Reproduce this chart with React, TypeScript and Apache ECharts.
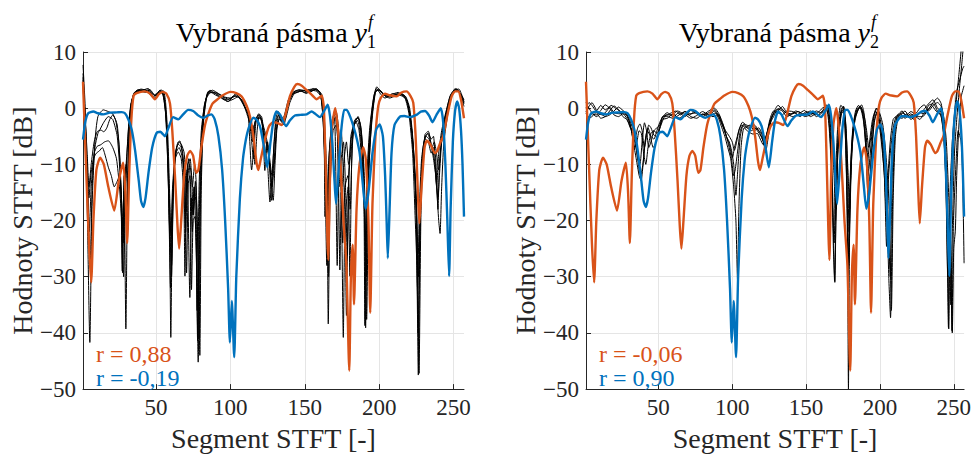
import React, { useEffect, useRef } from "react";
import * as echarts from "echarts";

type P = [number, number][];

const xTicks = [50, 100, 150, 200, 250];

const orangeRef: P = [[1,4.7],[3,-10],[5,-24],[6.5,-31],[8,-20],[10,-11],[12.5,-8.8],[15,-10],[18,-14],[22,-18.2],[25,-13],[28,-9.7],[29.5,-15],[30.7,-24],[32,-12],[33.5,-2],[35,2.2],[37,2.7],[42.6,3.0],[46,2.6],[49.3,1.6],[52,2.5],[54.5,2.9],[57,2.6],[59.4,0.9],[61,-4],[63,-13],[64.5,-21],[65.6,-25],[67,-20],[69,-12],[71,-8.5],[73,-7.6],[75,-8.5],[77,-11.5],[78.5,-11],[80.5,-7],[83,-3],[85.5,-0.8],[88,0.8],[91,1.5],[95,2.3],[100,2.9],[104,2.7],[107.6,2.1],[111,0.4],[113.2,-1.5],[115.5,-5],[117.5,-9.5],[118.8,-11],[120.5,-9],[123.2,-5.7],[126,-3.2],[128.8,-2.5],[131.5,-2.6],[134.5,-3.0],[137,-1.2],[140,2.1],[143,3.8],[145,4.3],[148,4.0],[151.3,3.2],[154.6,2.4],[158,1.6],[161.3,2.2],[162.8,0.2],[164,-10],[165.8,-27],[167,-12],[168.5,-3],[170.5,0],[172,-3],[174,-10],[176,-20],[178,-28],[179.9,-46.7],[181,-30],[182.2,-24.3],[183.1,-34.9],[184.8,-18],[186.8,-10],[189.3,-7],[191,-9],[192.8,-20],[194,-36.4],[195.5,-17],[197.5,-5],[199.4,0.4],[201,1.8],[203.9,2.6],[207,2.3],[211.7,2.1],[215,2.8],[218.4,3.0],[221,2.2],[222.9,1.0],[224.5,-5],[226,-15],[227,-20.5],[228.5,-14],[230.5,-7],[232,-5.8],[234.5,-6.5],[237.5,-8.0],[239,-7.6],[241,-6.2],[243,-5],[246,-1],[248.7,2.1],[251,3.0],[253.1,3.0],[255,1.5],[257,-1.8]];

const blueRef: P = [[1,-5.6],[2.5,-2.5],[4.5,-0.9],[7.9,-0.6],[11,-0.9],[14.6,-1.1],[19,-0.8],[23.6,-0.75],[27,-0.7],[29.2,-0.9],[31.5,-2],[33.7,-3.8],[36,-7.5],[38.5,-13],[40,-16.5],[41.5,-17.6],[43,-16],[45,-11.5],[47.5,-7],[50.5,-4.4],[53,-4.2],[56,-5],[58,-3.8],[61.6,-1.6],[65,-2],[68,-1.2],[71.7,-0.3],[75,-0.5],[78,-1.2],[81.8,-1.7],[85,-1.3],[87.4,-1.1],[89.5,-2],[92,-5],[94.5,-11],[96.5,-20],[98.5,-32],[99.7,-41.7],[101,-34.3],[102.6,-44.3],[104,-30],[106.4,-16.1],[108.5,-9],[110.5,-5.5],[112,-3.8],[115.4,-1.7],[117.5,-2],[119.9,-3.2],[122,-6],[124.8,-10.5],[127,-6],[129,-2.2],[131.1,-0.6],[133.5,-1.2],[137.4,-3.2],[140,-2.2],[143.4,-1.3],[147,-1.2],[151.3,-1.1],[154.6,-0.6],[157,-1],[160.2,-1.6],[163,-0.5],[165.4,0.6],[167,-1.5],[168.5,-6],[170,-13],[171,-17],[172.5,-12],[174.5,-4],[176.5,-0.3],[178.2,-0.3],[180.5,-1.5],[183,-3.5],[185,-5.5],[187,-8.2],[189,-13.5],[190.8,-17.9],[192.8,-15],[195.5,-8],[198,-3.8],[200.3,-2.9],[202.5,-5],[204,-12],[205,-20],[205.8,-26.7],[207,-18],[208.3,-8],[210.3,-3],[214,-1.5],[217,-1.4],[220.7,-1.6],[225,-1.2],[228,-0.6],[230.8,-0.5],[233.5,-1.3],[235.8,-2.5],[238.5,-1.2],[241.4,0],[243,-2.5],[244.5,-10],[245.8,-20],[247,-29.9],[248,-18],[249.5,-6],[251,-0.5],[252.4,1.2],[253.7,0],[255,-4],[256,-10],[257,-19.3]];

const leftBlack1: P = [[1,7.7],[2.5,0],[4,-20],[5.6,-41.7],[7,-18],[9,-6],[11,-1.5],[14.6,-0.3],[18,-0.6],[21,-1],[24,-3],[26,-10],[27.6,-29.3],[28.6,-12],[29.8,-39.3],[31,-12],[32.5,-2],[34,1.5],[37,3],[41,3.2],[44.8,3.5],[47,2.8],[49.3,2.2],[52.7,3.2],[55,2.5],[56.5,0],[58,-8],[59.3,-25],[60,-40.8],[61,-20],[62.5,-10],[64,-7],[66,-5.8],[68,-8],[69.5,-14],[70.6,-29.3],[71.7,-13.5],[72.8,-12],[73.9,-32.3],[75,-20],[76.2,-19.3],[77.3,-28],[78.4,-45.2],[79.5,-20],[80.5,-8],[82,-1],[85.2,3],[88,2.8],[91.9,2.4],[95,1.6],[98.6,1.2],[101,1.8],[104.2,2.4],[107,1.6],[110,0],[112,-1.1],[114.3,-11],[115.5,-8],[117,-2],[119.9,-1.7],[122.1,-4],[123.5,-8],[125,-10],[126.6,-16.7],[128,-12],[129.5,-6],[131,-2],[133,-1],[135.5,-2.9],[138,0],[141,2.2],[144.5,3],[148,3],[151,2.6],[155.7,3.5],[158,3.2],[161.3,2.2],[163,-5],[163.6,-19.3],[164.7,-10],[165.8,-38.4],[167,-15],[169,-4],[171.4,-2.9],[172.5,-10],[173.6,-28.8],[174.5,-15],[175.9,-40.8],[177,-20],[179.2,-14],[180.3,-29.9],[181.5,-10],[183,-3.2],[185.9,-1.5],[188,-5],[190,-15],[190.9,-39.1],[192,-18],[194,-6],[196,0],[198.3,3.5],[201,2.5],[203.9,1.8],[208,2.4],[212.8,2.8],[217.3,1.8],[220,-1],[222.5,-8],[224,-18.2],[225.3,-28],[226.3,-47.5],[227.3,-25],[228.5,-12],[230.8,-4.7],[233,-4.1],[235,-6.5],[237,-9],[238.6,-14],[240,-20],[240.9,-22.3],[242,-14],[243.5,-6],[246.4,-0.6],[249,2.5],[251,3.5],[253,3.2],[255.4,1.8],[257,0.3]];

const leftBlack2: P = [[1,6.2],[3,-5],[4.5,-18],[5.8,-28],[7.2,-14],[9,-7],[11,-4.5],[12.4,-3.8],[15,-2.5],[18,-1.5],[21,-2],[24,-5],[26.5,-14],[28,-22],[29.3,-12],[30.5,-20],[31.5,-8],[33,0],[35,2.5],[38,3.3],[42,3.0],[45,3.3],[48,2.0],[51,2.6],[53.5,3.3],[55.5,2],[57,-3],[58.5,-15],[59.8,-32],[61,-15],[63,-8],[65,-6.4],[67,-7],[68.5,-10],[69.5,-29.9],[70.5,-12],[72,-9],[73.5,-15],[74.5,-22],[75.5,-14],[77,-24],[78,-41.4],[79.2,-18],[80.5,-6],[82.5,0.5],[86.3,3.2],[90,2.6],[94,1.8],[98,1.5],[102,2.0],[105,2.2],[108,1.2],[110.5,-0.5],[113,-2.5],[115.4,-3.5],[116.5,-10],[118,-4],[119.5,-1.2],[121.5,-2.5],[123.2,-11.1],[124.5,-6],[126,-9],[127.7,-16.4],[129,-8],[130.5,-2],[132.2,-0.6],[134,-1.8],[136,-1.5],[139,1.5],[142,2.8],[146,3.2],[150,2.8],[154,3.0],[157.6,3.5],[160.5,2.6],[162.3,-2],[163.6,-12],[164.8,-28],[166,-10],[168,-3],[170,-1.8],[171.8,-28],[173,-8],[174.5,-4],[176,-12],[177,-18],[178,-36.9],[179.5,-12],[181,-5],[182.6,-3.2],[184.5,-2.5],[186.5,-4],[188.5,-10],[189.8,-18],[190.4,-38.7],[191.5,-14],[193.5,-4],[196,1.5],[198.4,3.8],[201,3],[205,2],[209,2.6],[213,2.4],[217,2.2],[219.5,0.5],[222,-4],[224,-12],[225.5,-22],[226.8,-47.2],[228,-20],[229.5,-8],[231,-5.5],[233,-6],[235,-8],[236.5,-7],[238,-9],[239.5,-18],[240.5,-10],[242.5,-4],[245,-1],[248,2],[251.5,3.3],[254,2.8],[257,1.5]];

const leftBlack3: P = [[1,5],[2.5,-3],[4,-12],[5.2,-22],[6.5,-14],[8.5,-8],[10.5,-6.8],[13,-6.5],[15.5,-6],[18,-5.8],[21,-7],[23.5,-9],[25.5,-14],[27,-20],[28.3,-30],[29.5,-15],[31,-6],[33,0.5],[35.5,2.8],[39,3.2],[43,3.3],[46.5,2.3],[49.3,1.8],[52,2.8],[54.5,2.6],[56.5,-1],[58,-10],[59,-20],[60.5,-28],[62,-12],[63.5,-8],[65.5,-7],[67.5,-8.5],[69,-12],[70,-18],[71,-11],[72.8,-33.7],[74,-16],[75,-19],[76.5,-13],[78,-22],[79,-41],[80,-16],[81.5,-4],[84,1.8],[87,2.8],[91,2.2],[95,2.0],[99,1.6],[103,2.2],[106,1.8],[109,0.5],[112,-1],[114,-5],[115.5,-9],[117,-3],[119,-1],[121,-1.5],[122.5,-4],[124,-6],[126,-9],[128.8,-16.4],[130,-10],[131.5,-3],[133.5,-1.5],[136,-3],[138.5,0.5],[142,2.5],[145,2.8],[149,3.2],[153,2.8],[157,3.3],[160,2.8],[162,0],[163.5,-8],[165,-18],[166.5,-8],[168.5,-2],[171,-1],[172.5,-6],[174,-12],[175.5,-24],[177,-14],[179,-12],[180.5,-18],[182,-6],[184,-2],[186,-1.8],[188,-4],[190,-12],[191.6,-37.6],[193,-12],[195,-2],[197.5,3],[200,3.2],[204,2.2],[208,2.2],[212.8,2.6],[216,2.4],[219,1],[221.5,-3],[223.5,-10],[225,-20],[226.2,-40],[227.5,-18],[229,-9],[231,-5],[233,-4.5],[235,-5.5],[236.5,-5],[238.6,-14],[240,-8],[242,-4],[245,-0.5],[248,2.4],[251,3.2],[253.5,3],[257,0.8]];

const leftBlack4: P = [[1,4],[2.5,-4],[3.8,-10],[5,-16],[6.2,-12],[8,-9],[10,-8],[12,-7.6],[14,-7],[16,-8.5],[18,-10.5],[20,-12],[22,-14],[24,-13],[25.5,-12],[27,-17],[28,-24],[29,-14],[30.5,-8],[32,-2],[34,1.5],[37,3],[40,3.4],[44,3.1],[47,2.6],[50,2.2],[53,3.0],[55,2.2],[57,-2],[58.5,-12],[60,-22],[61.5,-14],[63,-9],[65,-7.8],[67,-9],[68.5,-14],[70,-22],[71,-14],[72.5,-10],[74,-12],[75,-19],[76,-14],[77,-18],[77.7,-36],[79,-14],[80.5,-4],[83,1],[86,2.8],[90,2.8],[94,2.2],[98,1.2],[102,1.6],[105,2],[108,1.4],[111,-0.5],[113,-2],[114.3,-4],[116,-3],[118,-1.8],[120,-1.8],[122,-3],[124,-5],[126,-8],[128,-12],[129.5,-9],[131,-4],[133,-2],[135,-2.2],[137,-1],[140,1.8],[143,3],[147,3.3],[151,3],[154,3.2],[158,3],[161,2],[162.5,-3],[164,-12],[165.5,-20],[167,-7],[169,-1.5],[171,-0.5],[172.5,-3],[174,-8],[175,-14],[176.5,-9],[178,-6],[179.5,-10],[181,-8],[183,-2.5],[185.5,-1.6],[187.5,-3],[189,-8],[190.5,-20],[191.5,-30],[192.5,-12],[194.5,-3],[197,2.5],[199.5,3.4],[203,2.6],[207,2.0],[211,2.4],[215,2.2],[218.5,1.5],[221,-2],[223,-7],[225,-16],[226.5,-30],[228,-15],[229.5,-7],[231.5,-5],[233.5,-5.5],[235.5,-7],[237,-6],[238.5,-8],[240,-11],[241.5,-7],[243.5,-3],[246,0],[249,2.8],[252,3.4],[255,2.4],[257,1.2]];

const leftBlack5: P = [[1,5.5],[2.5,-2],[3.8,-8],[5,-14],[6.5,-10],[8.5,-6],[10.5,-4.2],[13,-3.9],[15,-4.2],[17,-3.5],[19,-2],[21,-1.2],[23,-2.2],[25,-6],[26.5,-14],[27.4,-29],[28.5,-13],[30,-10],[31,-15],[32,-5],[33.5,0.8],[36,2.8],[40,3],[43,2.8],[46,3.3],[49,2.4],[52,2.8],[55,3.1],[56.5,1],[58,-5],[59.5,-18],[60.5,-30],[61.5,-16],[63,-8.5],[65,-6],[67,-6.4],[69,-8],[70.5,-15],[71.5,-10],[73,-9],[74.5,-14],[76,-10],[77,-13],[78.5,-30],[79.5,-44],[80.5,-14],[82,-2],[84.5,2.5],[88,3.2],[92,2.6],[96,2.0],[100,1.8],[104,2.6],[107,2.2],[110,0.8],[112.5,-0.8],[114,-3],[115,-6],[116.5,-2.5],[118.7,-1.2],[121,-2],[122.5,-6],[123.5,-9],[125,-6],[126.5,-10],[128,-14],[129.5,-10],[131,-3.5],[132.5,-1.2],[134.5,-2.5],[137,-2],[140,1],[143,2.6],[147,3],[151,3.2],[155,3.4],[159,3.2],[161.5,2.4],[163,-1],[164.5,-10],[166,-30],[167,-12],[168.5,-3.5],[170.5,-1.5],[172,-5],[173,-14],[174.5,-9],[176,-6],[177.5,-15],[178.5,-26],[179.5,-14],[181,-6],[183,-3],[185.5,-2.2],[187.5,-5],[189.5,-14],[191,-26],[192.5,-10],[194.5,-2],[197,2.8],[199.5,3.2],[203,2.4],[207,1.8],[211,2.2],[215,2.6],[218,2],[220.5,0],[222.5,-5],[224.5,-14],[225.8,-32],[227,-18],[228.5,-9],[230.5,-5.5],[232.5,-4.5],[234.5,-6],[236.5,-9],[238,-12],[239.5,-16],[240.5,-12],[242,-6],[244.5,-1.5],[247.5,2],[250.5,3.2],[253.5,3.4],[256,2],[257,1]];

const rightBlack1: P = [[1,0],[3,1],[5,0.5],[8,-0.5],[11,0.5],[14,-0.3],[17,0.2],[20,-0.8],[24,-1],[27,-0.8],[29,-1.5],[31,-3],[33,-6],[35,-9],[37,-12],[38.3,-12.9],[40,-9],[41.5,-5],[43,-3.5],[45,-5],[47,-5.5],[49,-4],[51,-2.5],[53,-1.5],[56,-1.2],[59,-0.8],[62,-0.5],[65,-1.2],[68,-0.6],[72,-1],[76,-0.8],[80,-1.2],[84,-0.5],[88,0],[91,-1],[94,-3],[96,-5],[98,-6.4],[100.2,-8.8],[101.5,-7],[103,-5.5],[105,-3.5],[107,-2.5],[109,-2.9],[112,-3.2],[115,-3],[118,-4],[120,-4.5],[122,-5.6],[124,-4],[126,-2],[128,-1],[131,-0.5],[134,0.3],[137,-0.8],[140,-1],[143,-0.5],[147,-0.9],[150,-1.2],[154,-0.8],[158,-1.2],[161,-0.5],[164,0.6],[166,-2],[167.5,-12],[168.5,-25],[169.5,-31],[170.5,-14],[172,-3],[174,0],[175.5,0.3],[177,-5],[178,-20],[178.7,-50],[179.5,-22],[181,-8],[183,-2],[185,-0.5],[187.6,0.6],[189,-0.5],[190.5,-4],[192,-10],[193,-13],[194.5,-8],[196,-3],[197.5,-1],[199,-2],[201,-6],[203,-12],[204.5,-24.6],[205.5,-14],[207,-8],[209,-3.5],[211,-1.5],[214,-1],[217,-1.8],[220,-1.2],[223,-2],[226,-1],[229,-0.5],[232,0.5],[235.9,1.5],[239,0],[241,-0.5],[243,-3],[244.5,-10],[246,-25],[246.6,-39.3],[247.5,-22],[249,-12],[250.5,-3],[252,2],[253.5,6],[254.9,10],[256,14]];

const rightBlack2: P = [[1,-1],[3,0.3],[5,1],[7,0.2],[9,-0.8],[12,-1.2],[15,-0.5],[18,0.5],[21,0],[24,-0.5],[27,-1.2],[29,-2],[31,-3.5],[33,-4],[34.5,-6],[36,-9],[37.5,-10],[39,-6],[40.6,-2.6],[42,-4],[43.5,-7],[45,-6],[47,-4],[49,-3.5],[51,-3],[53,-1.5],[56,-0.8],[60,-1.5],[64,-0.8],[68,-1.5],[72,-0.4],[76,-1],[80,-1.5],[84,-0.8],[88,-0.3],[91,-1.5],[94,-3.5],[96,-5],[98,-6],[99.5,-7.5],[101,-10],[102.5,-15.5],[104,-10],[105.5,-5],[107.5,-3],[110,-3.5],[113,-4],[116,-3.5],[119,-4.5],[121,-6],[122.7,-7.6],[124.5,-5],[126.5,-2],[129,-0.5],[132,0],[135,-0.5],[138,-1.2],[142,-0.8],[146,-1.5],[150,-0.6],[154,-1],[158,-0.8],[161,0],[163.5,0.3],[165.5,-3],[167,-10],[168,-18],[169,-24],[170,-12],[171.5,-3],[173.5,0.5],[175.3,0],[176.5,-4],[177.5,-14],[178.5,-30],[179.5,-15],[181,-6],[183,-1.5],[185.5,0],[187,0.3],[189,-2],[190.5,-6],[191.5,-10],[193,-6],[195,-2],[197,-0.5],[199,-1.5],[201,-5],[203,-12],[204.5,-20],[205.5,-12],[207,-6],[209,-2],[212,-1.2],[215,-0.5],[218,-1.5],[221,-1],[224,-1.8],[227,-0.8],[230,-1],[233,0.5],[236,0.8],[239,-0.5],[241.5,-1.5],[243.5,-6],[245,-16],[246.4,-39],[247.5,-15],[249,-6],[250.5,-1],[252,3],[254,5],[256,7],[257,7.5]];

const rightBlack3: P = [[1,-2],[3,-1.5],[5,-1],[8,-1.2],[11,-0.4],[14,0.6],[17,0],[20,-1.2],[23,-1.5],[26,-1],[28.5,-1.2],[30.5,-2.5],[32.5,-5],[34,-7],[35.5,-6],[37,-4],[38.5,-4.5],[40,-8],[41.5,-10],[43,-7],[45,-4.5],[47,-4],[49,-4.5],[51,-3.2],[53,-2],[56,-1.8],[60,-1],[64,-1.8],[68,-1.2],[72,-1.8],[76,-1.3],[80,-0.6],[84,-1.2],[88,-0.5],[91,-2],[93,-3.5],[95,-5],[97,-7],[99,-9],[101,-14],[102.5,-20],[103.6,-30.5],[104.5,-18],[106,-7],[108,-3.5],[111,-4.2],[114,-4.6],[117,-4.5],[119,-5.5],[121,-6.5],[123,-5],[125,-3],[128,-1.5],[131,-0.2],[134,-0.5],[137,-1.5],[141,-1],[145,-0.6],[149,-1.5],[153,-1.2],[157,-0.5],[160,-0.8],[163,0],[165,-1],[166.5,-6],[168,-15],[169.3,-30.8],[170.5,-16],[172,-5],[174,-1],[175.5,-0.5],[177,-3],[178,-10],[179.2,-22],[180.3,-12],[182,-4],[184,-1.2],[186.5,0.4],[188.5,-1],[190,-5],[191.5,-14],[192.5,-18],[194,-9],[196,-2.5],[198,-0.8],[200,-2.5],[202.5,-8],[204.5,-16],[206,-30],[207.2,-37.3],[208.5,-18],[210,-5],[212,-1.5],[215,-1.8],[218,-1],[221,-2],[224,-1.5],[227,-2],[230,-0.8],[233,-0.2],[236,1],[239,1.8],[241.5,0.8],[243.5,-3],[245,-10],[246.5,-22],[248,-30],[249,-40],[250,-25],[251.1,-21.7],[252,-12],[253.5,-3],[255,2],[257,4]];

const rightBlack4: P = [[1,1],[3,0],[5,-0.8],[8,-1.5],[11,-1],[14,-1.5],[17,-1.2],[20,-0.5],[23,0.2],[26,-0.4],[28.5,-1],[30.5,-2],[32.5,-3.5],[34.5,-5],[36,-3.5],[37.5,-2.8],[39,-4],[40.5,-7],[42,-5],[43.5,-3],[45,-3.5],[47,-4.8],[49,-5],[51,-3.5],[53,-1.5],[56,-1.5],[60,-1.8],[64,-1.2],[68,-0.6],[72,-1.5],[76,-1.8],[80,-1],[84,-1.5],[88,-0.9],[91,-1.2],[93,-2.5],[95.5,-4],[98,-5],[100,-6],[101.5,-7.5],[103,-6],[104.5,-4],[106.5,-3],[109,-3.5],[112,-3],[115,-4],[118,-3.5],[120,-4.5],[122,-6.8],[123.5,-5.5],[125.5,-2.5],[128,-0.8],[131,0.5],[134,-0.2],[137,-1],[141,-1.5],[145,-1],[149,-0.4],[153,-1.5],[157,-1],[160,-1.5],[163,-0.5],[165,0.2],[166.5,-3],[168,-8],[169,-12],[170,-20],[171,-10],[172.5,-3],[174.5,-0.3],[176,-1.5],[177,-8],[178,-18],[179,-28],[180,-14],[181.5,-4],[183.5,-0.5],[185.5,0.5],[187.5,-0.5],[189,-2.5],[190.5,-7],[192,-12],[193.5,-8],[195.5,-2],[197.5,0],[199.5,-1],[201.5,-4],[203.5,-10],[205.5,-20],[207,-30],[208,-15],[209.5,-5],[211.5,-1.5],[214,-1.2],[217,-0.5],[220,-1.5],[223,-1],[226,-1.5],[229,-1.5],[232,-0.5],[235,0.5],[238,-0.5],[241,-1],[243,-4],[244.5,-12],[246,-30],[247,-20],[248,-35],[249,-22],[250.5,-8],[252,-2],[254,4],[255.5,8],[256.5,11],[257,12]];

const rightBlack5: P = [[1,-0.5],[3,-1.8],[5,-1.5],[8,-0.8],[11,-1.8],[14,-1.5],[17,-0.5],[20,0.4],[23,-0.3],[26,-1.5],[28.5,-2],[30.5,-3],[32.5,-4.5],[34,-6],[35.5,-8],[37,-11],[38,-12],[39.5,-10],[41,-6],[42.5,-4],[44.5,-5],[46.5,-7],[48.5,-6],[50.5,-4],[52.5,-2.5],[55,-1.2],[59,-1.2],[63,-0.5],[67,-1],[71,-1.2],[75,-0.5],[79,-1.2],[83,-1],[87,-1.5],[90,-1.2],[92.5,-2.5],[95,-4],[97.5,-6.5],[99.5,-9],[101,-12],[102,-11],[103.5,-8],[105.5,-4],[108,-2.8],[111,-3.5],[114,-3.2],[117,-4],[119.5,-5],[121.5,-6],[123.5,-4.5],[125.5,-2],[128,-0.5],[131,-0.8],[134,-1.2],[137,-0.5],[141,-0.6],[145,-1.2],[149,-1],[153,-0.5],[157,-1.5],[160,-1],[163,-0.2],[165,0.5],[166.5,-1],[168,-5],[169.5,-12],[170.5,-18],[171.5,-8],[173.5,-1],[175.3,0.3],[176.5,-2],[177.5,-6],[178.5,-12],[179.5,-18],[180.5,-9],[182.5,-2.5],[185,0],[187.5,0],[189.5,-1.5],[191,-4],[192.5,-7],[194,-5],[196,-1.5],[198,0],[200,-1],[202,-3],[204,-8],[206,-16],[207.8,-36],[209,-16],[210.5,-5],[212.5,-1.5],[215,-0.8],[218,-1.2],[221,-0.6],[224,-1],[227,0],[230,0.6],[233,-0.5],[236,0.5],[239,1],[241.5,0.3],[243.5,-2],[245,-6],[246.5,-15],[248,-25],[248.8,-39.6],[249.8,-20],[251.5,-10],[253,-4],[255,-6],[256,-12],[257,-27.6]];

const leftBlack = [leftBlack1, leftBlack2, leftBlack3, leftBlack4, leftBlack5];
const rightBlack = [rightBlack1, rightBlack2, rightBlack3, rightBlack4, rightBlack5];

const titlesMain = ["Vybraná pásma ", "Vybraná pásma "];
const titleSubs = ["1", "2"];
const rLabels = [["r = 0,88", "r = -0,19"], ["r = -0,06", "r = 0,90"]];

const ORANGE = "#D95319";
const BLUE = "#0072BD";
const AX = "#262626";
const FONT = "'Liberation Serif', serif";

const GRID_L = [83, 586];
const GRID_W = 381;
const GRID_TOP = 52;
const GRID_H = 340.5;

function fmtMinus(v: number) {
  return String(v).replace("-", "\u2212");
}

export default function App() {
  const ref = useRef<HTMLDivElement>(null);
  useEffect(() => {
    if (!ref.current) return;
    const chart = echarts.init(ref.current, null, { renderer: "svg" });
    const grids = GRID_L.map((l) => ({ left: l, top: GRID_TOP, width: GRID_W, height: GRID_H, containLabel: false }));
    const xAxes = [0, 1].map((i) => ({
      type: "value",
      gridIndex: i,
      min: 1,
      max: 257,
      axisLine: { show: true, onZero: false, lineStyle: { color: AX, width: 1 } },
      axisTick: { show: true, inside: true, length: 5, lineStyle: { color: AX }, customValues: xTicks },
      axisLabel: { color: AX, fontFamily: FONT, fontSize: 23, margin: 7, customValues: xTicks },
      splitLine: { show: true, lineStyle: { color: "#e5e5e5", width: 1 } },
      name: "Segment STFT [-]",
      nameLocation: "middle",
      nameGap: 33,
      nameTextStyle: { color: AX, fontFamily: FONT, fontSize: 28 },
    }));
    const yAxes = [0, 1].map((i) => ({
      type: "value",
      gridIndex: i,
      min: -50,
      max: 10,
      interval: 10,
      axisLine: { show: true, onZero: false, lineStyle: { color: AX, width: 1 } },
      axisTick: { show: true, inside: true, length: 5, lineStyle: { color: AX } },
      axisLabel: { color: AX, fontFamily: FONT, fontSize: 23, margin: 7, formatter: (v: number) => fmtMinus(v) },
      splitLine: { show: true, lineStyle: { color: "#e5e5e5", width: 1 } },
      name: "Hodnoty STFT [dB]",
      nameLocation: "middle",
      nameGap: 46,
      nameTextStyle: { color: AX, fontFamily: FONT, fontSize: 28 },
    }));
    const mk = (data: P, gi: number, color: string, width: number, z: number) => ({
      type: "line",
      xAxisIndex: gi,
      yAxisIndex: gi,
      data,
      symbol: "none",
      showSymbol: false,
      smooth: 0.2,
      clip: true,
      silent: true,
      z,
      lineStyle: { color, width },
    });
    const series: any[] = [];
    leftBlack.forEach((d) => series.push(mk(d, 0, "#000000", 1, 2)));
    rightBlack.forEach((d) => series.push(mk(d, 1, "#000000", 1, 2)));
    [0, 1].forEach((gi) => {
      series.push(mk(orangeRef, gi, ORANGE, 2.4, 3));
      series.push(mk(blueRef, gi, BLUE, 2.4, 4));
    });
    const graphics: any[] = [];
    [0, 1].forEach((gi) => {
      const off = GRID_L[gi] - GRID_L[0];
      const X0 = 367 + off;
      graphics.push({
        type: "text",
        x: X0,
        y: 32,
        z: 100,
        style: {
          text: "{n|" + titlesMain[gi] + "}{i|y}",
          fill: "#000",
          align: "right",
          verticalAlign: "middle",
          rich: {
            n: { fontFamily: FONT, fontSize: 28, fill: "#000" },
            i: { fontStyle: "italic", fontFamily: FONT, fontSize: 28, fill: "#000" },
          },
        },
      });
      graphics.push({
        type: "text",
        x: X0 + 1,
        y: 22,
        z: 100,
        style: { text: "f", fontFamily: FONT, fontStyle: "italic", fontSize: 18, fill: "#000", align: "left", verticalAlign: "middle" },
      });
      graphics.push({
        type: "text",
        x: X0,
        y: 42,
        z: 100,
        style: { text: titleSubs[gi], fontFamily: FONT, fontSize: 18, fill: "#000", align: "left", verticalAlign: "middle" },
      });
      graphics.push({
        type: "text",
        x: 96 + off,
        y: 354,
        z: 100,
        style: { text: rLabels[gi][0], fontFamily: FONT, fontSize: 24, lineHeight: 24, fill: ORANGE, align: "left", verticalAlign: "middle" },
      });
      graphics.push({
        type: "text",
        x: 96 + off,
        y: 378,
        z: 100,
        style: { text: rLabels[gi][1], fontFamily: FONT, fontSize: 24, lineHeight: 24, fill: BLUE, align: "left", verticalAlign: "middle" },
      });
    });
    chart.setOption({
      animation: false,
      backgroundColor: "#ffffff",
      grid: grids,
      xAxis: xAxes,
      yAxis: yAxes,
      series,
      graphic: graphics,
    });
    return () => chart.dispose();
  }, []);
  return (
    <div
      ref={ref}
      style={{ position: "fixed", left: 0, top: 0, width: 974, height: 457, background: "#fff" }}
    />
  );
}
